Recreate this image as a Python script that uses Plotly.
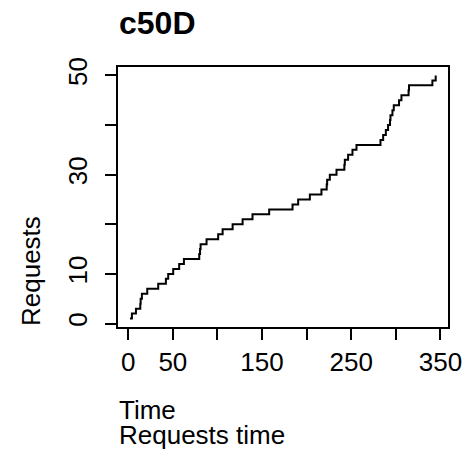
import plotly.graph_objects as go

# Request arrival times and cumulative counts
times = [1.9, 4.1, 8.6, 13.5, 13.9, 15.3, 21.3, 33.6, 42.2, 44.8,
         50.4, 57.1, 62.4, 79.6, 80.5, 81.1, 87.8, 100.8, 105.8, 117.0,
         128.2, 139.3, 158.0, 184.2, 190.5, 203.6, 216.6, 222.5, 223.0, 226.0,
         233.5, 242.3, 242.8, 246.5, 251.4, 255.9, 282.8, 285.8, 288.8, 291.3,
         293.5, 294.0, 296.2, 297.7, 303.6, 306.3, 314.3, 314.8, 341.0, 344.7]
requests = list(range(1, 51))

x_tickvals = [0, 50, 100, 150, 200, 250, 300, 350]
x_ticktext = ["0", "50", "", "150", "", "250", "", "350"]
y_tickvals = [0, 10, 20, 30, 40, 50]
y_ticktext = ["0", "10", "", "30", "", "50"]

FONT = "Liberation Sans, Arial, sans-serif"
FS = 26

fig = go.Figure()
fig.add_trace(go.Scatter(x=times, y=requests, mode="lines",
                         line=dict(shape="hv", color="black", width=2),
                         showlegend=False))

axis_common = dict(showline=True, linecolor="black", linewidth=2, mirror=True,
                   ticks="outside", ticklen=11, tickwidth=2, tickcolor="black",
                   showgrid=False, zeroline=False, ticklabeloverflow="allow",
                   automargin=False,
                   tickfont=dict(family=FONT, size=FS, color="black"))

fig.update_xaxes(range=[-11.5, 358.5], tickmode="array",
                 tickvals=x_tickvals, ticktext=x_ticktext, **axis_common)
fig.update_yaxes(range=[-0.7, 51.7], tickmode="array",
                 tickvals=y_tickvals, ticktext=y_ticktext, tickangle=-90,
                 ticklabelstandoff=8, **axis_common)

fig.update_layout(
    width=462, height=452, autosize=False,
    margin=dict(l=118, r=14, t=67, b=125),
    paper_bgcolor="white", plot_bgcolor="white",
    font=dict(family=FONT, size=FS, color="black"),
    annotations=[
        dict(text="<b>c50D</b>", xref="paper", yref="paper", x=0, y=1.17,
             xanchor="left", yanchor="middle", showarrow=False, borderpad=0,
             font=dict(family=FONT, size=32, color="black")),
        dict(text="Time", xref="paper", yref="paper", x=0, y=-0.321,
             xanchor="left", yanchor="middle", showarrow=False, borderpad=0,
             font=dict(family=FONT, size=FS, color="black")),
        dict(text="Requests time", xref="paper", yref="paper", x=0, y=-0.415,
             xanchor="left", yanchor="middle", showarrow=False, borderpad=0,
             font=dict(family=FONT, size=FS, color="black")),
        dict(text="Requests", xref="paper", yref="paper", x=-0.2636, y=0,
             xanchor="center", yanchor="bottom", textangle=-90, showarrow=False,
             borderpad=0,
             font=dict(family=FONT, size=FS, color="black")),
    ],
)

fig.write_html("out.html", config={"displayModeBar": False},
               post_script="document.body.style.margin='0';document.body.style.overflow='hidden';")
